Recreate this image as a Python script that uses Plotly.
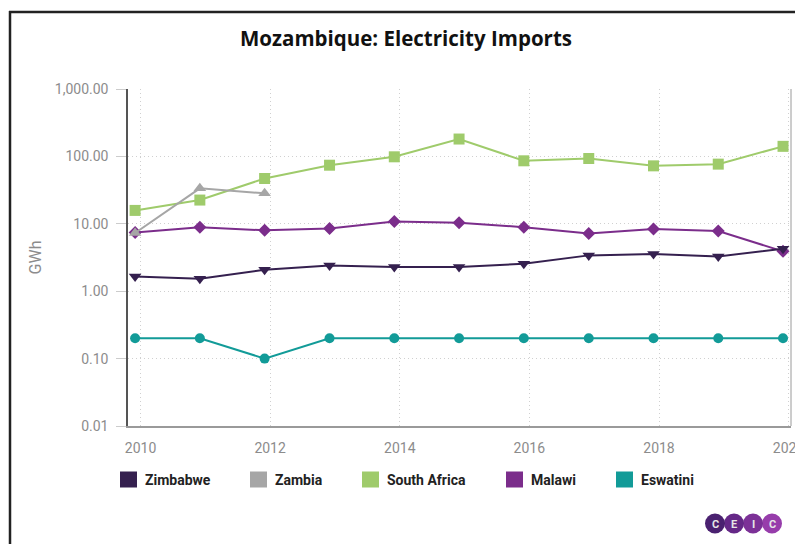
import plotly.graph_objects as go

# ---------------- data ----------------
periods = ["2009-12-01", "2010-12-01", "2011-12-01", "2012-12-01", "2013-12-01", "2014-12-01",
           "2015-12-01", "2016-12-01", "2017-12-01", "2018-12-01", "2019-12-01"]
zimbabwe = [1.65, 1.53, 2.08, 2.41, 2.28, 2.28, 2.55, 3.40, 3.57, 3.28, 4.28]
zambia = [7.3, 33.6, 28.3, None, None, None, None, None, None, None, None]
south_africa = [15.8, 22.5, 47.0, 74.0, 98.6, 181.0, 86.0, 93.0, 72.4, 76.8, 141.0]
malawi = [7.4, 8.9, 8.0, 8.5, 10.8, 10.4, 8.9, 7.2, 8.4, 7.8, 3.9]
eswatini = [0.2, 0.2, 0.1, 0.2, 0.2, 0.2, 0.2, 0.2, 0.2, 0.2, 0.2]

series_names = ["Zimbabwe", "Zambia", "South Africa", "Malawi", "Eswatini"]
series_values = [zimbabwe, zambia, south_africa, malawi, eswatini]
series_colors = ["#35204f", "#a6a6a6", "#9fcb6b", "#7b2d8b", "#129b98"]
series_symbols = ["triangle-down", "triangle-up", "square", "diamond", "circle"]
series_sizes = [11, 11, 11, 10, 10]

y_tickvals = [0.01, 0.1, 1, 10, 100, 1000]
x_tickvals = ["2010-01-01", "2012-01-01", "2014-01-01", "2016-01-01", "2018-01-01", "2020-01-01"]
x_ticktext = ["2010", "2012", "2014", "2016", "2018", "2020"]

W, H = 795, 544
ML, MR, MT, MB = 128, 4, 89, 118
PW, PH = W - ML - MR, H - MT - MB


def px2x(px):
    return (px - ML) / PW


def py2y(py):
    return (H - MB - py) / PH


fig = go.Figure()

# draw data traces (reverse order so first legend series is on top)
for name, vals, col, sym, sz in reversed(list(zip(series_names, series_values, series_colors,
                                                   series_symbols, series_sizes))):
    fig.add_trace(go.Scatter(
        x=periods, y=vals, name=name, mode="lines+markers",
        line=dict(color=col, width=2),
        marker=dict(color=col, symbol=sym, size=sz),
        showlegend=False, connectgaps=False,
    ))

shapes = []
annotations = []

# outer frame (left and top), partially clipped by the viewport
shapes.append(dict(type="line", xref="paper", yref="paper",
                   x0=px2x(10), x1=px2x(10), y0=py2y(11), y1=py2y(600),
                   line=dict(color="#222222", width=2.5)))
shapes.append(dict(type="line", xref="paper", yref="paper",
                   x0=px2x(9), x1=px2x(900), y0=py2y(12), y1=py2y(12),
                   line=dict(color="#222222", width=2.5)))
# right plot border
shapes.append(dict(type="line", xref="paper", yref="paper",
                   x0=1, x1=1, y0=0, y1=1,
                   line=dict(color="#9a9a9a", width=1)))

# legend (square swatch + bold label), laid out below the plot
legend_square_px = [120, 250, 362, 506, 616]
legend_cy = 479.5
for name, col, sx in zip(series_names, series_colors, legend_square_px):
    shapes.append(dict(type="rect", xref="paper", yref="paper",
                       x0=px2x(sx), x1=px2x(sx + 17),
                       y0=py2y(legend_cy + 8), y1=py2y(legend_cy - 8),
                       fillcolor=col, line=dict(width=0)))
    annotations.append(dict(x=px2x(sx + 23), y=py2y(legend_cy), xref="paper", yref="paper",
                            text=name, showarrow=False, xanchor="left", yanchor="middle",
                            font=dict(family="Roboto", size=14, color="#222222", weight="bold")))

# CEIC logo
logo_cx = [715, 734, 753, 772]
logo_cols = ["#4a2170", "#652887", "#7c3197", "#973dab"]
logo_letters = ["C", "E", "I", "C"]
r = 10
for cx, c in zip(reversed(logo_cx), reversed(logo_cols)):
    shapes.append(dict(type="circle", xref="paper", yref="paper",
                       x0=px2x(cx - r), x1=px2x(cx + r), y0=py2y(523.5 + r), y1=py2y(523.5 - r),
                       fillcolor=c, line=dict(width=0)))
for cx, letter in zip(logo_cx, logo_letters):
    annotations.append(dict(x=px2x(cx), y=py2y(524), xref="paper", yref="paper",
                            text="<b>%s</b>" % letter, showarrow=False,
                            font=dict(family="Roboto", size=11, color="#e6e6e6"),
                            xanchor="center", yanchor="middle"))

grid_dash = "1px,3px"

fig.update_layout(
    width=W, height=H,
    margin=dict(l=ML, r=MR, t=MT, b=MB),
    paper_bgcolor="white", plot_bgcolor="white",
    showlegend=False,
    title=dict(text="Mozambique: Electricity Imports",
               x=406 / W, xanchor="center", xref="container",
               y=1 - 39 / H, yanchor="middle", yref="container",
               font=dict(family="Open Sans", size=20.5, color="#111111", weight="bold")),
    xaxis=dict(
        type="date", automargin=False,
        range=["2009-10-22", "2020-01-15"],
        tickvals=x_tickvals, ticktext=x_ticktext,
        showgrid=True, gridcolor="#d0d0d0", griddash=grid_dash, gridwidth=1,
        showline=True, linecolor="#9a9a9a", linewidth=1.5,
        ticks="", ticklabelstandoff=8, ticklabeloverflow="allow",
        tickfont=dict(family="Roboto", size=14, color="#8c8c8c"),
        zeroline=False,
    ),
    yaxis=dict(
        type="log", range=[-2, 3], automargin=False,
        tickvals=y_tickvals, tickformat=",.2f",
        showgrid=True, gridcolor="#d0d0d0", griddash=grid_dash, gridwidth=1,
        showline=True, linecolor="#555555", linewidth=1.5,
        ticks="outside", ticklen=10, tickcolor="#cccccc", tickwidth=1,
        ticklabelstandoff=5,
        tickfont=dict(family="Roboto", size=14, color="#8c8c8c"),
        title=dict(text="GWh", standoff=9,
                   font=dict(family="Roboto", size=16, color="#8c8c8c")),
        zeroline=False,
    ),
    shapes=shapes,
    annotations=annotations,
)

fig.write_html("out.html")
